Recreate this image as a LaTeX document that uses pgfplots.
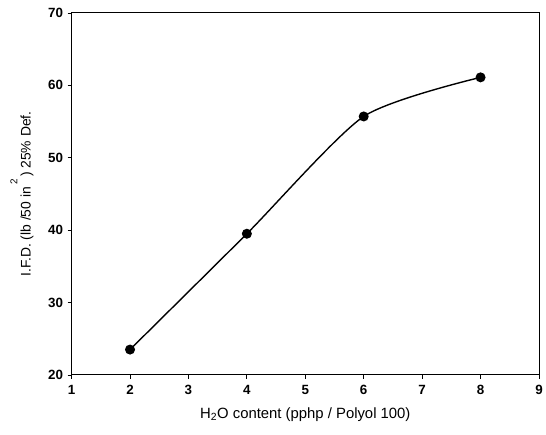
\documentclass[border=0pt]{standalone}
\usepackage{fontspec}
\setmainfont{Liberation Sans}
\usepackage{pgfplots}
\pgfplotsset{compat=1.18}
\begin{document}
\begin{tikzpicture}
\begin{axis}[
  at={(0,0)}, anchor=south west,
  scale only axis,
  width=470bp, height=364bp,
  xmin=1, xmax=9, ymin=20, ymax=70,
  xtick={1,...,9}, ytick={20,30,...,70},
  tick align=outside,
  major tick length=4bp,
  xtick pos=bottom, ytick pos=left,
  axis line style={line width=0.9bp},
  tick style={line width=0.8bp, black},
  /pgf/number format/assume math mode=true,
  ticklabel style={font=\fontsize{13.5}{15}\selectfont\bfseries},
  xticklabel style={yshift=-3bp},
  yticklabel style={xshift=-1bp},
  xlabel={H\textsubscript{2}O content (pphp / Polyol 100)},
  ylabel={I.F.D. (lb /50 in\,\raisebox{1.8ex}{\fontsize{10}{10}\selectfont 2}\,) 25\% Def.},
  xlabel style={font=\fontsize{15}{17}\selectfont, yshift=-6bp},
  ylabel style={font=\fontsize{14}{16}\selectfont, yshift=8bp},
  clip=false,
]
\addplot[black, line width=1.4bp, smooth, tension=0.4, mark=*, mark size=4.3bp, mark options={fill=black}]
  coordinates {(2,23.5) (4,39.5) (6,55.7) (8,61.1)};
\end{axis}
\path[use as bounding box] (-72bp,-60bp) rectangle (474bp,377bp);
\end{tikzpicture}
\end{document}
